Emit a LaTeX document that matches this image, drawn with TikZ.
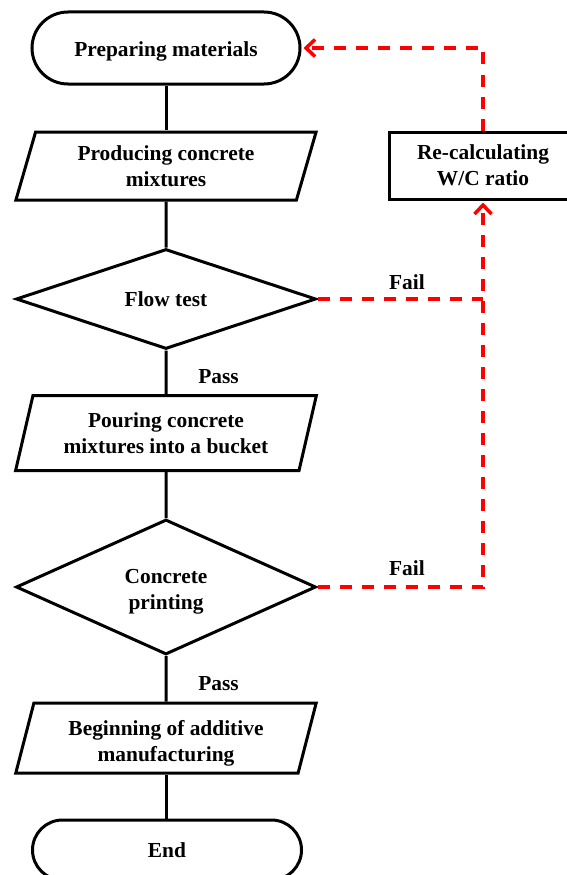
\documentclass[tikz,border=0pt]{standalone}
\usepackage{fontspec}
\setmainfont{Liberation Serif}
\usetikzlibrary{shapes.geometric,shapes.misc,arrows.meta}
\newcommand{\dn}[2]{\raisebox{-#1}[\height][\depth]{\begin{tabular}{@{}c@{}}#2\end{tabular}}}
\tikzset{
  base/.style={draw=black, line width=3pt, font=\fontsize{21.4}{26}\selectfont\bfseries, align=center, inner sep=0pt, text=black},
  term/.style={base, rounded rectangle},
  io/.style={base, trapezium, trapezium stretches=true, trapezium left angle=75.6, trapezium right angle=104.4},
  dec/.style={base, diamond},
  proc/.style={base, rectangle},
  lbl/.style={font=\fontsize{21.4}{26}\selectfont\bfseries, inner sep=0pt},
  conn/.style={draw=black, line width=3pt},
  fail/.style={draw=red, line width=3.5pt, dash pattern=on 12pt off 10pt},
  failarrow/.style={fail, -{Straight Barb[length=9pt,width=17pt,line width=3.5pt]}}
}
\begin{document}
\begin{tikzpicture}[x=1pt,y=-1pt]
\useasboundingbox (0,0) rectangle (566,875);
\node[term, minimum width=268pt, minimum height=72pt] (start) at (166,48) {\dn{3.5pt}{Preparing materials}};
\node[io, minimum width=301pt, minimum height=68pt] (p1) at (166,166) {\dn{2pt}{Producing concrete\\mixtures}};
\node[dec, shape aspect=3, minimum width=300pt, minimum height=100pt] (d1) at (166,299) {\dn{2pt}{Flow test}};
\node[io, minimum width=301pt, minimum height=75pt] (p2) at (166,433) {\dn{2.5pt}{Pouring concrete\\mixtures into a bucket}};
\node[dec, shape aspect=2.2, minimum width=300pt, minimum height=135pt] (d2) at (166,587) {\dn{4pt}{Concrete\\printing}};
\node[io, minimum width=301pt, minimum height=70pt] (p3) at (166,738) {\dn{5pt}{Beginning of additive\\manufacturing}};
\node[term, minimum width=269pt, minimum height=60pt] (end) at (167,850) {End};
\node[proc, minimum width=188pt, minimum height=67pt] (rc) at (483,165.5) {\dn{1.5pt}{Re-calculating\\W/C ratio}};

\draw[conn] (start.south -| p1.north) -- (p1.north);
\draw[conn] (p1.south) -- (d1.north);
\draw[conn] (d1.south) -- (p2.north);
\draw[conn] (p2.south) -- (d2.north);
\draw[conn] (d2.south) -- (p3.north);
\draw[conn] (p3.south) -- (end.north -| p3.south);

\node[lbl] (pass1) at (218.5,377) {Pass};
\node[lbl] (pass2) at (218.5,684) {Pass};
\node[lbl] (fail1) at (407,282) {Fail};
\node[lbl] (fail2) at (407,568) {Fail};

\coordinate (j1) at (d1.east -| rc.south);
\draw[fail] (d1.east) -- (j1);
\draw[failarrow] (d2.east) -| ([yshift=-2pt]rc.south);
\draw[failarrow] (rc.north) |- ([xshift=2pt]start.east);
\end{tikzpicture}
\end{document}
